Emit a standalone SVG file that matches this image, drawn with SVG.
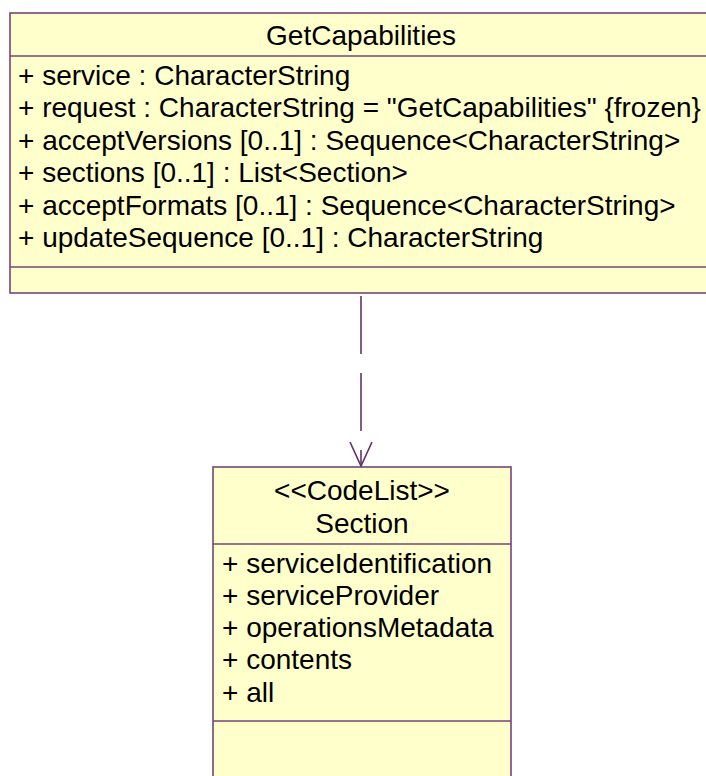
<svg xmlns="http://www.w3.org/2000/svg" width="706" height="776" viewBox="0 0 706 776">
<defs>
<style>
.box{fill:#FFFFCC;stroke:#774477;stroke-width:1.6}
.div{stroke:#774477;stroke-width:1.6;fill:none}
text{font-family:"Liberation Sans",Arial,sans-serif;font-size:28px;fill:#000}
.c{text-anchor:middle}
.conn{stroke:#663366;stroke-width:1.6;fill:none}
</style>
<marker id="open" markerWidth="30" markerHeight="30" refX="24" refY="12" orient="auto" markerUnits="userSpaceOnUse" viewBox="0 0 30 24">
<path d="M0,1 L24,12 L0,23" fill="none" stroke="#663366" stroke-width="1.6"/>
</marker>
</defs>
<rect width="706" height="776" fill="#FFFFFF"/>
<g id="GetCapabilities">
<rect class="box" x="10" y="13" width="702" height="280"/>
<line class="div" x1="10" y1="56" x2="712" y2="56"/>
<line class="div" x1="10" y1="267" x2="712" y2="267"/>
<text class="c" x="361" y="45">GetCapabilities</text>
<text x="18" y="85">+ service : CharacterString</text>
<text x="18" y="117.4">+ request : CharacterString = "GetCapabilities" {frozen}</text>
<text x="18" y="149.8">+ acceptVersions [0..1] : Sequence&lt;CharacterString&gt;</text>
<text x="18" y="182.2">+ sections [0..1] : List&lt;Section&gt;</text>
<text x="18" y="214.6">+ acceptFormats [0..1] : Sequence&lt;CharacterString&gt;</text>
<text x="18" y="247">+ updateSequence [0..1] : CharacterString</text>
</g>
<g id="Section">
<rect class="box" x="213" y="467" width="298" height="320"/>
<line class="div" x1="213" y1="544" x2="511" y2="544"/>
<line class="div" x1="213" y1="721" x2="511" y2="721"/>
<text class="c" x="362" y="500">&lt;&lt;CodeList&gt;&gt;</text>
<text class="c" x="362" y="533">Section</text>
<text x="222" y="573">+ serviceIdentification</text>
<text x="222" y="605">+ serviceProvider</text>
<text x="222" y="637">+ operationsMetadata</text>
<text x="222" y="669">+ contents</text>
<text x="222" y="702">+ all</text>
</g>
<g id="connectors">
<line class="conn" x1="361" y1="296" x2="361" y2="466" stroke-dasharray="58 19" marker-end="url(#open)"/>
</g>
</svg>
